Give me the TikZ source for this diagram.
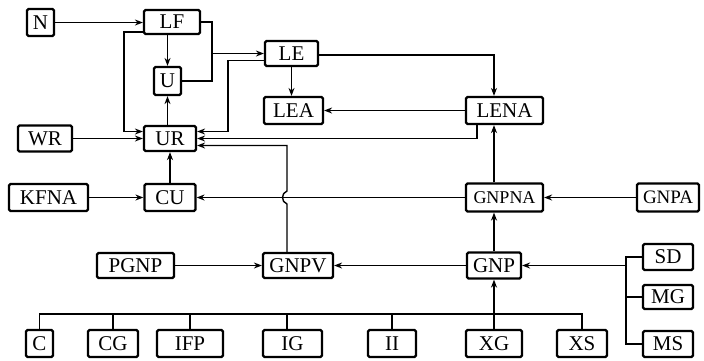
\documentclass[tikz,border=0pt]{standalone}
\usepackage{fontspec}
\setmainfont{Liberation Serif}
\usetikzlibrary{arrows.meta}
\begin{document}
\begin{tikzpicture}[x=1pt, y=-1pt, every node/.style={font=\fontsize{21}{21}\selectfont}]
        \tikzstyle{blk} = [rectangle, draw, line width=2.2pt, rounded corners=1.5pt, inner sep=0pt, minimum height=26pt]
        \tikzstyle{ln} = [line width=1.4pt]
        \tikzstyle{arr} = [line width=1.4pt, -{Stealth[length=8pt,width=6pt]}]
        \useasboundingbox (0,0) rectangle (704,360);
        % upper part
        \node [blk, minimum width=27pt, minimum height=27pt] (n) at (40.5,22.5) {N};
        \node [blk, minimum width=56pt, minimum height=24pt] (lf) at (172,22) {LF};
        \node [blk, minimum width=27pt, minimum height=28pt] (u) at (167.5,81) {U};
        \node [blk, minimum width=53pt, minimum height=25pt] (le) at (291.5,53.5) {LE};
        \node [blk, minimum width=59pt, minimum height=27pt] (lea) at (293.5,110.5) {LEA};
        \node [blk, minimum width=77pt, minimum height=27pt] (lena) at (504.5,110.5) {LENA};
        \node [blk, minimum width=54pt] (wr) at (45,138.5) {WR};
        \node [blk, minimum width=52pt, minimum height=25pt] (ur) at (170,138.5) {UR};
        % middle rows
        \node [blk, minimum width=79pt, minimum height=27pt] (kfna) at (48.5,197.5) {KFNA};
        \node [blk, minimum width=51pt, minimum height=27pt] (cu) at (170,197.5) {CU};
        \node [blk, minimum width=77pt, minimum height=28pt] (gnpna) at (504.5,197.5) {\fontsize{18}{18}\selectfont GNPNA};
        \node [blk, minimum width=62pt, minimum height=28pt] (gnpa) at (668,197.5) {\fontsize{19}{19}\selectfont GNPA};
        \node [blk, minimum width=77pt, minimum height=25pt] (pgnp) at (135.5,265.5) {PGNP};
        \node [blk, minimum width=70pt, minimum height=25pt] (gnpv) at (298,265.5) {GNPV};
        \node [blk, minimum width=54pt] (gnp) at (494,265.5) {GNP};
        \node [blk, minimum width=50pt] (sd) at (668,257) {SD};
        \node [blk, minimum width=50pt, minimum height=24pt] (mg) at (668,297) {MG};
        \node [blk, minimum width=50pt] (ms) at (668,344) {MS};
        % bottom row
        \node [blk, minimum width=27pt, minimum height=27pt] (c) at (39.5,343.5) {C};
        \node [blk, minimum width=50pt, minimum height=27pt] (cg) at (113,343.5) {CG};
        \node [blk, minimum width=66pt, minimum height=27pt] (ifp) at (190,343.5) {IFP};
        \node [blk, minimum width=59pt, minimum height=27pt] (ig) at (292.5,343.5) {IG};
        \node [blk, minimum width=48pt, minimum height=27pt] (ii) at (392,343.5) {II};
        \node [blk, minimum width=56pt, minimum height=27pt] (xg) at (494,343.5) {XG};
        \node [blk, minimum width=50pt, minimum height=27pt] (xs) at (582,343.5) {XS};
        \coordinate (lfu) at (212,53.5);
        \coordinate (sbus) at (627,265.5);
        % connectors
        \draw [arr] (n.east) -- (n.east -| lf.west);
        \draw [arr] (lf.south -| u.north) -- (u.north); \draw [arr] (ur.north -| u.south) -- (u.south);
        \draw [ln] (lf.east) -| (lfu) |- (u.east); \draw [arr] (lfu) -- (lfu -| le.west);
        \draw [arr] ([yshift=-10pt]lf.west) -- ++(-19,0) |- ([yshift=7pt]ur.west);
        \draw [arr] (wr) -- (ur); \draw [arr] (cu) -- (ur);
        \draw [arr] ([yshift=-7pt]le.west) -- ++(-36,0) |- ([yshift=7pt]ur.east);
        \draw [arr] ([xshift=-27.5pt]lena.south) |- (ur.east);
        \draw [arr] ([xshift=-11pt]gnpv.north) -- (287,204) .. controls (281,202) and (281,193) .. (287,191) |- ([yshift=-7pt]ur.east);
        \draw [arr] ([yshift=-1.5pt]le.east) -| (gnp.north |- lena.north);
        \draw [arr] (le.south) -- (le.south |- lea.north); \draw [arr] (lena) -- (lea);
        \draw [arr] (gnp.north |- gnpna.north) -- (gnp.north |- lena.south);
        \draw [arr] (gnp.north) -- (gnp.north |- gnpna.south);
        \draw [arr] (gnpa) -- (gnpna); \draw [arr] (gnpna) -- (cu); \draw [arr] (kfna) -- (cu);
        \draw [arr] (pgnp) -- (gnpv); \draw [arr] (gnp) -- (gnpv);
        \draw [ln] (sd.west) -- ++(-16,0) |- (ms.west); \draw [ln] (mg.west) -- ++(-16,0);
        \draw [arr] (sbus) -- (gnp);
        \draw [ln] (c.north) -- ++(0,-15) -| (xs.north);
        \foreach \b in {cg,ifp,ii} \draw [ln] (\b.north) -- ++(0,-15);
        \draw [ln] ([xshift=-5.5pt]ig.north) -- ++(0,-15);
        \draw [arr] (xg.north) -- (xg.north |- gnp.south);
    \end{tikzpicture}
\end{document}
